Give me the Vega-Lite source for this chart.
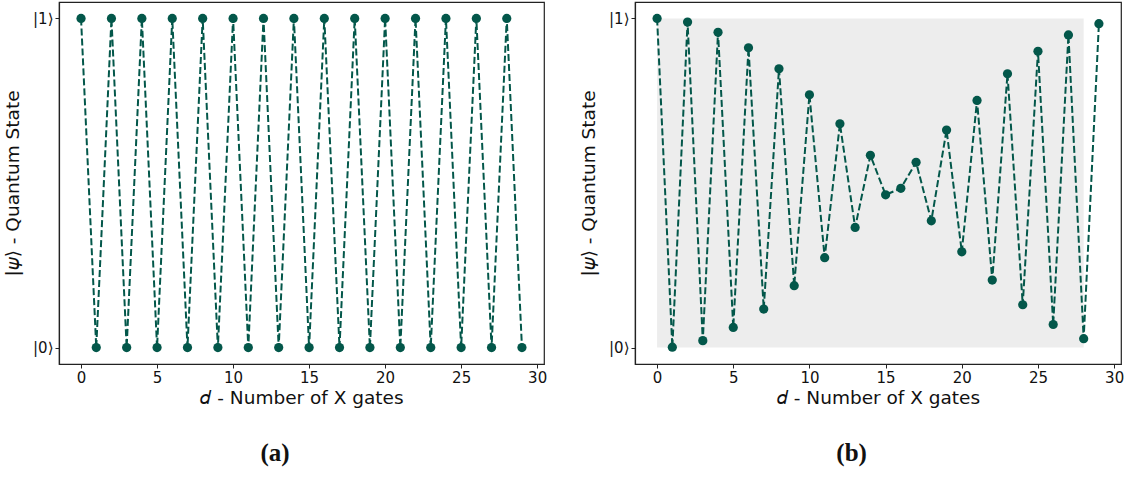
{
  "$schema": "https://vega.github.io/schema/vega-lite/v6.json",
  "padding": {"left": 2, "top": 1, "right": 5, "bottom": 5},
  "background": "white",
  "config": {
    "view": {"stroke": "#222", "strokeWidth": 1.2},
    "font": "DejaVu Sans",
    "axis": {
      "grid": false,
      "domainColor": "#222",
      "domainWidth": 1.2,
      "tickColor": "#222",
      "tickSize": 4,
      "labelFont": "DejaVu Sans",
      "labelFontSize": 15,
      "labelColor": "#111",
      "titleFont": "DejaVu Sans",
      "titleFontSize": 18.5,
      "titleFontWeight": "normal",
      "titleColor": "#111"
    },
    "title": {"font": "Liberation Serif", "fontSize": 25, "fontWeight": "bold", "color": "#111"},
    "concat": {"spacing": 30}
  },
  "datasets": {
    "a": [
      {"d": 0, "s": 1}, {"d": 1, "s": 0}, {"d": 2, "s": 1}, {"d": 3, "s": 0}, {"d": 4, "s": 1},
      {"d": 5, "s": 0}, {"d": 6, "s": 1}, {"d": 7, "s": 0}, {"d": 8, "s": 1}, {"d": 9, "s": 0},
      {"d": 10, "s": 1}, {"d": 11, "s": 0}, {"d": 12, "s": 1}, {"d": 13, "s": 0}, {"d": 14, "s": 1},
      {"d": 15, "s": 0}, {"d": 16, "s": 1}, {"d": 17, "s": 0}, {"d": 18, "s": 1}, {"d": 19, "s": 0},
      {"d": 20, "s": 1}, {"d": 21, "s": 0}, {"d": 22, "s": 1}, {"d": 23, "s": 0}, {"d": 24, "s": 1},
      {"d": 25, "s": 0}, {"d": 26, "s": 1}, {"d": 27, "s": 0}, {"d": 28, "s": 1}, {"d": 29, "s": 0}
    ],
    "b": [
      {"d": 0, "s": 1.0}, {"d": 1, "s": 0.001}, {"d": 2, "s": 0.989}, {"d": 3, "s": 0.021},
      {"d": 4, "s": 0.958}, {"d": 5, "s": 0.061}, {"d": 6, "s": 0.911}, {"d": 7, "s": 0.117},
      {"d": 8, "s": 0.847}, {"d": 9, "s": 0.188}, {"d": 10, "s": 0.768}, {"d": 11, "s": 0.273},
      {"d": 12, "s": 0.68}, {"d": 13, "s": 0.365}, {"d": 14, "s": 0.584}, {"d": 15, "s": 0.464},
      {"d": 16, "s": 0.484}, {"d": 17, "s": 0.563}, {"d": 18, "s": 0.385}, {"d": 19, "s": 0.661},
      {"d": 20, "s": 0.291}, {"d": 21, "s": 0.751}, {"d": 22, "s": 0.205}, {"d": 23, "s": 0.832},
      {"d": 24, "s": 0.13}, {"d": 25, "s": 0.9}, {"d": 26, "s": 0.07}, {"d": 27, "s": 0.95},
      {"d": 28, "s": 0.027}, {"d": 29, "s": 0.984}
    ],
    "band": [{"x0": 0, "x1": 28, "y0": 0, "y1": 1}]
  },
  "hconcat": [
    {
      "width": 485,
      "height": 362,
      "title": {"text": "(a)", "orient": "bottom", "anchor": "middle", "frame": "bounds", "offset": 34},
      "data": {"name": "a"},
      "encoding": {
        "x": {"field": "d", "type": "quantitative",
              "scale": {"domain": [-1.45, 30.45], "nice": false, "zero": false},
              "axis": {"values": [0, 5, 10, 15, 20, 25, 30], "title": "𝑑 - Number of X gates", "titlePadding": 3}},
        "y": {"field": "s", "type": "quantitative",
              "scale": {"domain": [-0.05, 1.05], "nice": false},
              "axis": {"values": [0, 1], "labelExpr": "datum.value == 1 ? '|1⟩' : '|0⟩'", "title": "|𝜓⟩ - Quantum State", "titlePadding": 10}}
      },
      "layer": [
        {"mark": {"type": "line", "color": "#03574a", "strokeWidth": 2, "strokeDash": [7, 3]}},
        {"mark": {"type": "circle", "color": "#03574a", "size": 85, "opacity": 1}}
      ]
    },
    {
      "width": 486,
      "height": 362,
      "title": {"text": "(b)", "orient": "bottom", "anchor": "middle", "frame": "bounds", "offset": 34},
      "layer": [
        {
          "data": {"name": "band"},
          "mark": {"type": "rect", "color": "#ededed"},
          "encoding": {
            "x": {"field": "x0", "type": "quantitative", "scale": {"domain": [-1.45, 30.45], "nice": false, "zero": false}},
            "x2": {"field": "x1"},
            "y": {"field": "y0", "type": "quantitative", "scale": {"domain": [-0.05, 1.05], "nice": false}},
            "y2": {"field": "y1"}
          }
        },
        {
          "data": {"name": "b"},
          "encoding": {
            "x": {"field": "d", "type": "quantitative",
                  "scale": {"domain": [-1.45, 30.45], "nice": false, "zero": false},
                  "axis": {"values": [0, 5, 10, 15, 20, 25, 30], "title": "𝑑 - Number of X gates", "titlePadding": 3}},
            "y": {"field": "s", "type": "quantitative",
                  "scale": {"domain": [-0.05, 1.05], "nice": false},
                  "axis": {"values": [0, 1], "labelExpr": "datum.value == 1 ? '|1⟩' : '|0⟩'", "title": "|𝜓⟩ - Quantum State", "titlePadding": 10}}
          },
          "layer": [
            {"mark": {"type": "line", "color": "#03574a", "strokeWidth": 2, "strokeDash": [7, 3]}},
            {"mark": {"type": "circle", "color": "#03574a", "size": 85, "opacity": 1}}
          ]
        }
      ]
    }
  ]
}
